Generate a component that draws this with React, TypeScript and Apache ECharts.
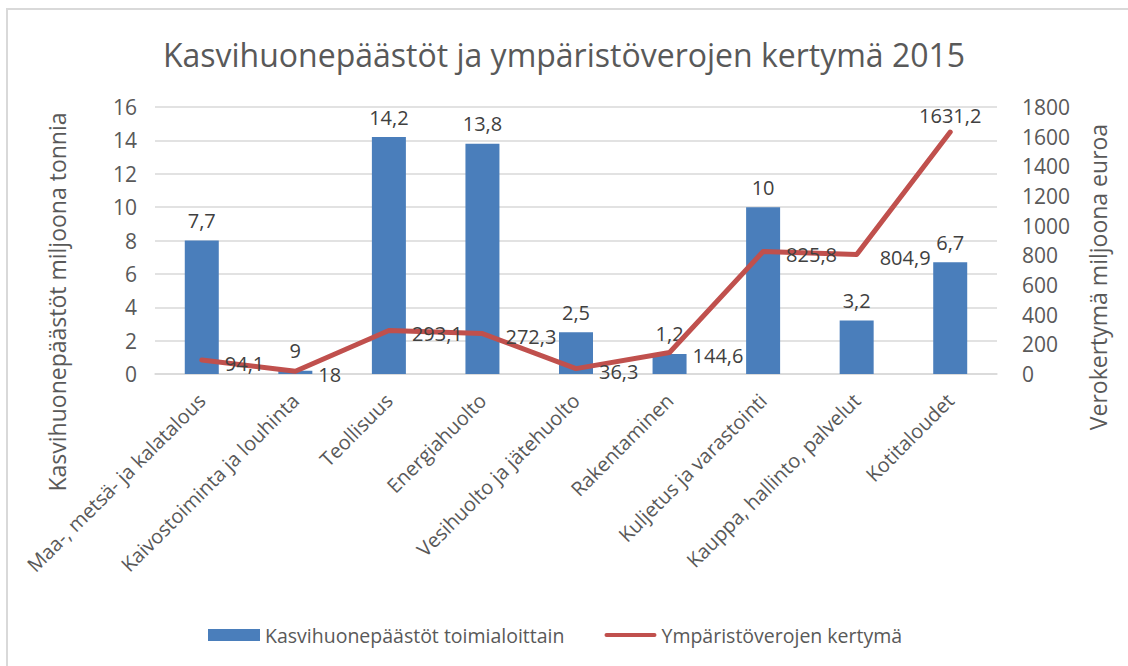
import React, { useEffect, useRef } from "react";
import * as echarts from "echarts";

const categories = [
  "Maa-, metsä- ja kalatalous",
  "Kaivostoiminta ja louhinta",
  "Teollisuus",
  "Energiahuolto",
  "Vesihuolto ja jätehuolto",
  "Rakentaminen",
  "Kuljetus ja varastointi",
  "Kauppa, hallinto, palvelut",
  "Kotitaloudet",
];
const emissionValues = [8, 0.2, 14.2, 13.8, 2.5, 1.2, 10, 3.2, 6.7];
const emissionLabels = ["7,7", "9", "14,2", "13,8", "2,5", "1,2", "10", "3,2", "6,7"];
const taxValues = [94.1, 18, 293.1, 272.3, 36.3, 144.6, 825.8, 804.9, 1631.2];
const taxLabels = ["94,1", "18", "293,1", "272,3", "36,3", "144,6", "825,8", "804,9", "1631,2"];
const leftTicks = { min: 0, max: 16, interval: 2 };
const rightTicks = { min: 0, max: 1800, interval: 200 };

const FONT = "Open Sans";
const TXT = "#595959";

export default function App() {
  const ref = useRef<HTMLDivElement>(null);
  useEffect(() => {
    document.body.style.margin = "0";
    const chart = echarts.init(ref.current!, null, { renderer: "svg" });
    chart.setOption({
      animation: false,
      backgroundColor: "#ffffff",
      textStyle: { fontFamily: FONT },
      title: {
        text: "Kasvihuonepäästöt ja ympäristöverojen kertymä 2015",
        left: "center",
        top: 33,
        textStyle: { fontFamily: FONT, fontSize: 32, fontWeight: "normal", color: TXT },
      },
      graphic: [
        {
          type: "rect",
          z: -10,
          shape: { x: 7, y: 9, width: 1300, height: 800 },
          style: { fill: "transparent", stroke: "#d9d9d9", lineWidth: 2 },
        },
        {
          type: "text",
          x: 57,
          y: 302,
          rotation: Math.PI / 2,
          style: {
            text: "Kasvihuonepäästöt miljoona tonnia",
            fontFamily: FONT,
            fontSize: 23,
            fill: TXT,
            align: "center",
            verticalAlign: "middle",
          },
        },
        {
          type: "text",
          x: 1098,
          y: 277,
          rotation: Math.PI / 2,
          style: {
            text: "Verokertymä miljoona euroa",
            fontFamily: FONT,
            fontSize: 23,
            fill: TXT,
            align: "center",
            verticalAlign: "middle",
          },
        },
      ],
      legend: {
        left: 203,
        top: 620,
        itemWidth: 52,
        itemHeight: 12,
        itemGap: 40,
        textStyle: { fontFamily: FONT, fontSize: 19.5, color: TXT },
        data: [
          { name: "Kasvihuonepäästöt toimialoittain", icon: "rect" },
          {
            name: "Ympäristöverojen kertymä",
            icon: "path://M0,0 M52,12 M2,4 L50,4 A2,2 0 0 1 50,8 L2,8 A2,2 0 0 1 2,4 Z",
          },
        ],
      },
      grid: { left: 155, right: 131, top: 107, bottom: 292, containLabel: false },
      xAxis: {
        type: "category",
        data: categories,
        axisLine: { lineStyle: { color: "#d9d9d9", width: 1.5 } },
        axisTick: { show: false },
        axisLabel: {
          rotate: 45,
          interval: 0,
          margin: 23,
          fontFamily: FONT,
          fontSize: 20,
          color: TXT,
        },
      },
      yAxis: [
        {
          type: "value",
          ...leftTicks,
          axisLine: { show: false },
          axisTick: { show: false },
          splitLine: { lineStyle: { color: "#d9d9d9", width: 1.5 } },
          axisLabel: { margin: 18, fontFamily: FONT, fontSize: 21, color: TXT },
        },
        {
          type: "value",
          ...rightTicks,
          axisLine: { show: false },
          axisTick: { show: false },
          splitLine: { show: false },
          axisLabel: {
            margin: 25,
            fontFamily: FONT,
            fontSize: 21,
            color: TXT,
            formatter: (v: number) => String(v),
          },
        },
      ],
      series: [
        {
          name: "Kasvihuonepäästöt toimialoittain",
          type: "bar",
          yAxisIndex: 0,
          barWidth: 34,
          data: emissionValues,
          itemStyle: { color: "#4a7ebb" },
          label: {
            show: true,
            position: "top",
            distance: 10,
            fontFamily: FONT,
            fontSize: 20,
            color: "#404040",
            formatter: (p: any) => emissionLabels[p.dataIndex],
          },
        },
        {
          name: "Ympäristöverojen kertymä",
          type: "line",
          yAxisIndex: 1,
          symbol: "circle",
          symbolSize: 2,
          itemStyle: { color: "#c0504d" },
          lineStyle: { color: "#c0504d", width: 5, cap: "round", join: "round" },
          data: taxValues.map((v, i) =>
            i === taxValues.length - 1
              ? { value: v, label: { position: "top", distance: 6, offset: [0, 0] } }
              : v
          ),
          label: {
            show: true,
            position: "right",
            distance: 22,
            offset: [0, 3],
            fontFamily: FONT,
            fontSize: 20,
            color: "#404040",
            formatter: (p: any) => taxLabels[p.dataIndex],
          },
        },
      ],
    });
    return () => chart.dispose();
  }, []);
  return <div ref={ref} style={{ width: 1128, height: 666 }} />;
}
